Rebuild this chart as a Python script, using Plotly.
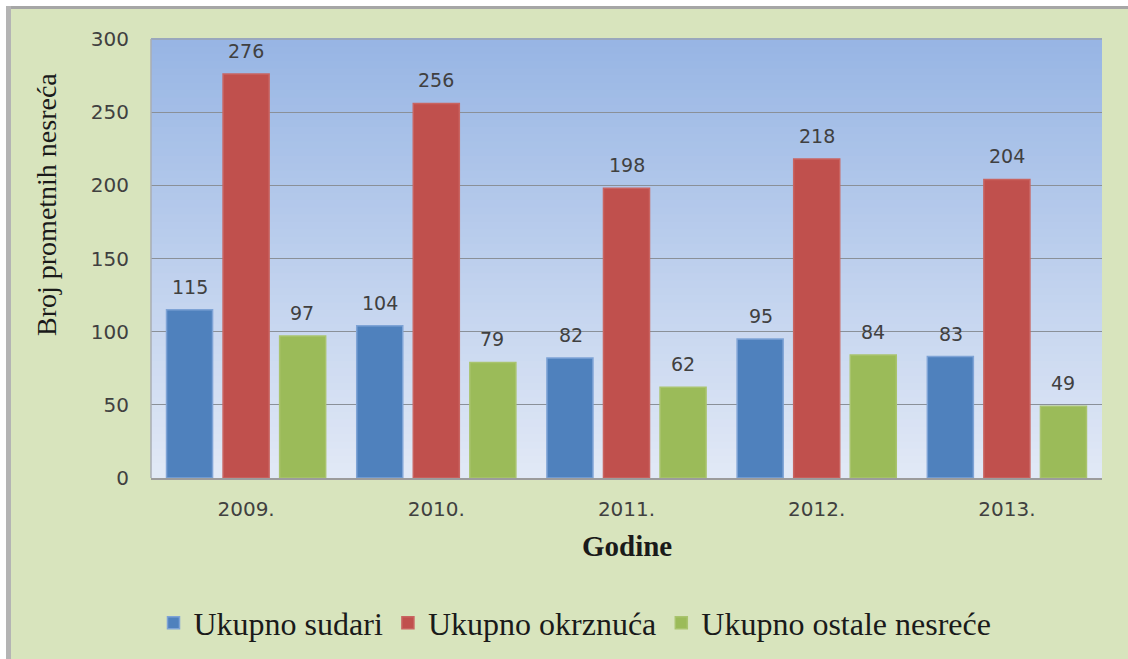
import plotly.graph_objects as go

years = ["2009.", "2010.", "2011.", "2012.", "2013."]
sudari = [115, 104, 82, 95, 83]
okrznuca = [276, 256, 198, 218, 204]
ostale = [97, 79, 62, 84, 49]
series_names = ["Ukupno sudari", "Ukupno okrznuća", "Ukupno ostale nesreće"]
series_colors = ["#4F81BD", "#C0504D", "#9BBB59"]
edge_colors = ["#7EA3D6", "#C96461", "#A9C46E"]
y_ticks = [0, 50, 100, 150, 200, 250, 300]

W, H = 1128, 659
L, R, T, B = 151, 26, 39, 181
PW, PH = W - L - R, H - T - B


def px_x(p):
    return (p - L) / PW


def px_y(p):
    return (H - B - p) / PH


fig = go.Figure()
for name, vals, col, ec in zip(series_names, [sudari, okrznuca, ostale], series_colors, edge_colors):
    fig.add_trace(go.Bar(
        x=years, y=vals, name=name,
        marker=dict(color=col, line=dict(color=ec, width=1.5)),
        hoverinfo="x+y+name",
    ))

shapes = []
# gradient plot background
n = 60
top = (151, 181, 228)
bot = (226, 233, 246)
for i in range(n):
    f = (i + 0.5) / n
    c = tuple(int(round(bot[k] + (top[k] - bot[k]) * f)) for k in range(3))
    shapes.append(dict(type="rect", xref="paper", yref="paper",
                       x0=0, x1=1, y0=i / n, y1=(i + 1) / n + 0.002,
                       fillcolor="rgb(%d,%d,%d)" % c, line=dict(width=0), layer="below"))
# plot area border (top / left)
shapes.append(dict(type="line", xref="paper", yref="paper", x0=0, x1=1, y0=1, y1=1,
                   line=dict(color="#9AA3B0", width=1.5), layer="above"))
shapes.append(dict(type="line", xref="paper", yref="paper", x0=0, x1=0, y0=0, y1=1,
                   line=dict(color="#A8ADB5", width=1.5), layer="above"))
# outer frame: white top strip + gray line, white left strip + gray line
shapes.append(dict(type="rect", xref="paper", yref="paper",
                   x0=px_x(-5), x1=px_x(W + 5), y0=px_y(6), y1=px_y(-5),
                   fillcolor="white", line=dict(width=0), layer="below"))
shapes.append(dict(type="rect", xref="paper", yref="paper",
                   x0=px_x(-5), x1=px_x(6), y0=px_y(H + 5), y1=px_y(-5),
                   fillcolor="white", line=dict(width=0), layer="below"))
shapes.append(dict(type="rect", xref="paper", yref="paper",
                   x0=px_x(6), x1=px_x(W + 5), y0=px_y(9), y1=px_y(6),
                   fillcolor="#A6A6A6", line=dict(width=0), layer="below"))
shapes.append(dict(type="rect", xref="paper", yref="paper",
                   x0=px_x(6), x1=px_x(11), y0=px_y(H + 5), y1=px_y(6),
                   fillcolor="#B4B4B4", line=dict(width=0), layer="below"))

annotations = []
offsets = [-56, 0, 56]
for vals, off in zip([sudari, okrznuca, ostale], offsets):
    for i, v in enumerate(vals):
        annotations.append(dict(x=i, y=v, xref="x", yref="y", text=str(v),
                                showarrow=False, xshift=off, yshift=23,
                                font=dict(family="DejaVu Sans", size=19, color="#404040")))
annotations.append(dict(x=px_x(47), y=px_y(205), xref="paper", yref="paper",
                        xanchor="center", yanchor="middle",
                        text="Broj prometnih nesreća", textangle=-90, showarrow=False,
                        font=dict(family="Liberation Serif", size=28, color="#1a1a1a")))
annotations.append(dict(x=px_x(627), y=px_y(546), xref="paper", yref="paper",
                        xanchor="center", yanchor="middle",
                        text="<b>Godine</b>", showarrow=False,
                        font=dict(family="Liberation Serif", size=29, color="#1a1a1a")))

fig.update_layout(
    width=W, height=H,
    margin=dict(l=L, r=R, t=T, b=B, autoexpand=False),
    paper_bgcolor="#D8E4BD",
    plot_bgcolor="rgba(0,0,0,0)",
    barmode="group", bargap=0.108, bargroupgap=0.186,
    shapes=shapes, annotations=annotations,
    showlegend=True,
    legend=dict(orientation="h", x=px_x(575), xanchor="center", y=px_y(623), yanchor="middle",
                font=dict(family="Liberation Serif", size=32, color="#1a1a1a"),
                bgcolor="rgba(0,0,0,0)", itemwidth=30, traceorder="normal"),
    xaxis=dict(type="category", categoryorder="array", categoryarray=years,
               range=[-0.5, 4.5],
               showline=True, linecolor="#9C9C9C", linewidth=2, ticks="",
               ticklabelstandoff=12,
               tickfont=dict(family="DejaVu Sans", size=20, color="#404040"),
               showgrid=False, zeroline=False),
    yaxis=dict(range=[0, 300], tickvals=y_ticks, ticks="",
               ticklabelstandoff=21,
               tickfont=dict(family="DejaVu Sans", size=20, color="#404040"),
               showgrid=True, gridcolor="#8A9098", gridwidth=1.4,
               zeroline=False, showline=False),
)

fig.write_html("out.html", config={"displayModeBar": False},
               post_script="document.body.style.margin='0';document.body.style.overflow='hidden';")
